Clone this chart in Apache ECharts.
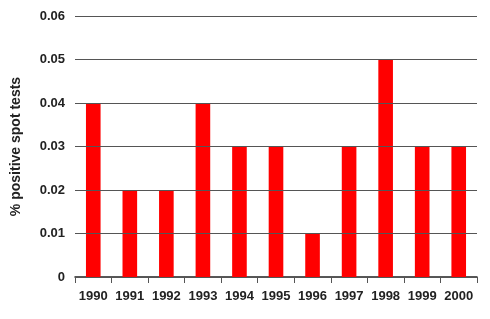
<!DOCTYPE html>
<html><head><meta charset="utf-8">
<script src="https://cdn.jsdelivr.net/npm/echarts@6/dist/echarts.min.js"></script>
<style>html,body{margin:0;padding:0;background:#fff}#c{width:490px;height:319px}</style>
</head><body><div id="c"></div>
<script>
const categories = ['1990','1991','1992','1993','1994','1995','1996','1997','1998','1999','2000'];
const values = [0.04, 0.02, 0.02, 0.04, 0.03, 0.03, 0.01, 0.03, 0.05, 0.03, 0.03];
const yTicks = [0, 0.01, 0.02, 0.03, 0.04, 0.05, 0.06];
const yTitle = '% positive spot tests';

const chart = echarts.init(document.getElementById('c'));
chart.setOption({
  animation: false,
  grid: {left: 75, right: 13, top: 16, bottom: 42},
  xAxis: {
    type: 'category', data: categories,
    axisLine: {lineStyle: {color: '#222', width: 1.5}},
    axisTick: {show: true, length: 6, lineStyle: {color: '#555'}},
    axisLabel: {interval: 0, color: '#222', fontFamily: 'Liberation Sans, Arial', fontWeight: 'bold', fontSize: 13, margin: 13}
  },
  yAxis: {
    type: 'value', min: 0, max: 0.06, interval: 0.01, z: 3,
    name: yTitle, nameLocation: 'middle', nameGap: 52,
    nameTextStyle: {color: '#222', fontFamily: 'Liberation Sans, Arial', fontWeight: 'bold', fontSize: 14},
    axisLine: {show: false}, axisTick: {show: false},
    axisLabel: {color: '#222', fontFamily: 'Liberation Sans, Arial', fontWeight: 'bold', fontSize: 13, margin: 10,
      formatter: v => { const t = yTicks.find(x => Math.abs(x - v) < 1e-9); return t === 0 ? '0' : String(t); }},
    splitLine: {lineStyle: {color: '#555', width: 1}}
  },
  series: [{
    type: 'bar', data: values, barWidth: '40%',
    itemStyle: {color: '#ff0000'}
  }]
});
</script></body></html>
